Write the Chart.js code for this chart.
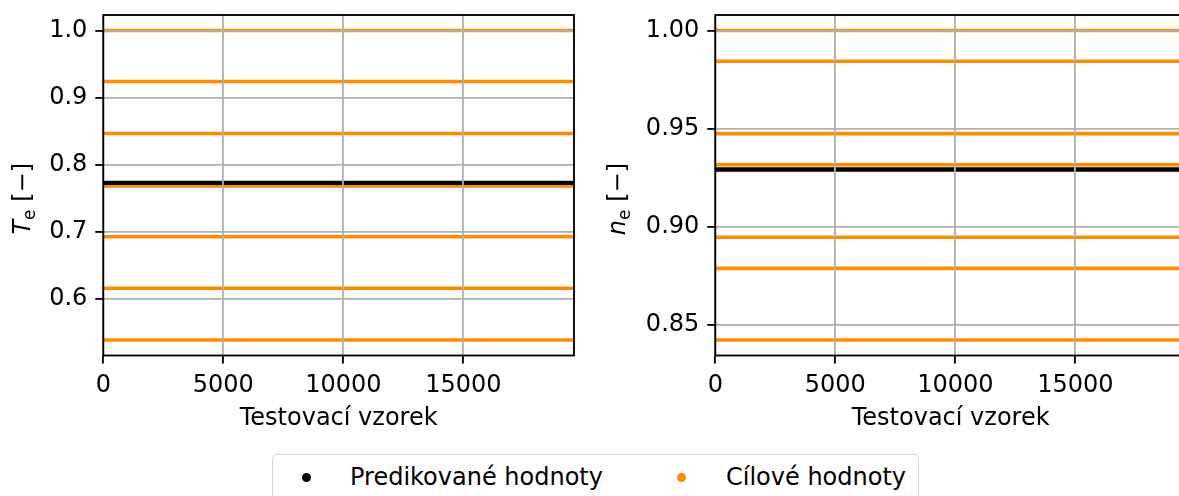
<!DOCTYPE html>
<html><head><meta charset="utf-8">
<script src="https://cdn.jsdelivr.net/npm/chart.js@4"></script>
<style>
html,body{margin:0;padding:0;width:1179px;height:496px;overflow:hidden;background:#fff;}
#wrap{position:relative;width:1179px;height:496px;overflow:hidden;}
canvas{position:absolute;top:0;}
#c1{left:0;width:590px;height:440px;}
#c2{left:590px;width:612px;height:440px;}
#legbox{position:absolute;left:272px;top:454px;width:647px;height:70px;border:1.8px solid #d4d4d4;border-radius:5px;box-sizing:border-box;background:#fff;}
.dot{position:absolute;width:9px;height:9px;border-radius:50%;}
.lt{position:absolute;font-family:"DejaVu Sans";font-size:24px;line-height:24px;white-space:nowrap;color:#000;}
</style></head>
<body>
<div id="wrap">
<canvas id="c1" width="590" height="440"></canvas>
<canvas id="c2" width="612" height="440"></canvas>
<div id="legbox"></div>
<div class="dot" id="d1" style="left:302px;top:473px;"></div>
<span class="lt" id="l1" style="left:350px;top:465px;"></span>
<div class="dot" id="d2" style="left:677px;top:473px;"></div>
<span class="lt" id="l2" style="left:726px;top:465px;"></span>
</div>
<script>
// ---- data ----
const seriesNames = ["Predikované hodnoty", "Cílové hodnoty"];
const seriesColors = ["#000000", "#ff8c00"];
const xLabel = "Testovací vzorek";
const sampleCount = 19612;
const xTicks = [0, 5000, 10000, 15000];

const teTarget = [1.0, 0.9239, 0.8463, 0.7682, 0.6925, 0.6157, 0.5384];
const tePredicted = [0.7727];
const teTicks = [0.6, 0.7, 0.8, 0.9, 1.0];

const neTarget = [1.0, 0.9843, 0.9475, 0.9316, 0.8947, 0.8789, 0.8424];
const nePredicted = [0.9292];
const neTicks = [0.85, 0.90, 0.95, 1.00];

// ---- legend ----
document.getElementById('d1').style.background = seriesColors[0];
document.getElementById('d2').style.background = seriesColors[1];
document.getElementById('l1').textContent = seriesNames[0];
document.getElementById('l2').textContent = seriesNames[1];

Chart.defaults.font.family = "DejaVu Sans";
Chart.defaults.font.size = 24;
Chart.defaults.color = "#000";

const LW = 1.85;
const framePlugin = {
  id: 'frame',
  afterDraw(chart) {
    const {ctx, chartArea: a} = chart;
    ctx.save();
    ctx.strokeStyle = '#000';
    ctx.lineWidth = LW;
    ctx.strokeRect(a.left, a.top, a.right - a.left, a.bottom - a.top);
    ctx.restore();
    const o = chart.options.plugins.ylab;
    if (!o) return;
    ctx.save();
    ctx.fillStyle = '#000';
    ctx.textBaseline = 'alphabetic';
    ctx.textAlign = 'left';
    const fMain = '24px "DejaVu Sans"';
    const fIt = 'italic 24px "DejaVu Sans"';
    const fSub = '17px "DejaVu Sans"';
    ctx.font = fIt; const wS = ctx.measureText(o.sym).width;
    ctx.font = fSub; const wE = ctx.measureText(o.sub).width;
    ctx.font = fMain; const wR = ctx.measureText(o.rest).width;
    const total = wS + wE + wR;
    ctx.translate(o.x, o.yEnd);
    ctx.rotate(-Math.PI / 2);
    let x0 = -total;
    ctx.font = fIt; ctx.fillText(o.sym, x0, 0);
    ctx.font = fSub; ctx.fillText(o.sub, x0 + wS, 4.5);
    ctx.font = fMain; ctx.fillText(o.rest, x0 + wS + wE, 0);
    ctx.restore();
  }
};

function makeChart(id, target, predicted, yTicks, decimals, yAxisWidth, rightPad, ylab) {
  const lo = Math.min(...target, ...predicted), hi = Math.max(...target, ...predicted);
  const m = (hi - lo) * 0.05;
  const datasets = [];
  predicted.forEach(v => datasets.push({
    label: seriesNames[0], data: [{x: 0, y: v}, {x: sampleCount, y: v}],
    borderColor: seriesColors[0], borderWidth: 4.4, pointRadius: 0, fill: false
  }));
  target.forEach(v => datasets.push({
    label: seriesNames[1], data: [{x: 0, y: v}, {x: sampleCount, y: v}],
    borderColor: seriesColors[1], borderWidth: 3.6, pointRadius: 0, fill: false
  }));
  return new Chart(document.getElementById(id), {
    type: 'line',
    data: {datasets},
    options: {
      responsive: false, animation: false, devicePixelRatio: 1,
      layout: {padding: {top: 15, right: rightPad, bottom: 0, left: 0}, autoPadding: false},
      plugins: {legend: {display: false}, tooltip: {enabled: false}, ylab},
      scales: {
        x: {
          type: 'linear', min: 0, max: sampleCount,
          afterBuildTicks: s => { s.ticks = xTicks.map(v => ({value: v})); },
          afterFit: s => { s.height = 84.5; s.paddingLeft = 0; s.paddingRight = 0; },
          ticks: {padding: 8, maxRotation: 0, autoSkip: false, callback: v => String(v)},
          grid: {color: '#b0b0b0', lineWidth: LW, z: 1, drawTicks: true, tickLength: 8, tickColor: '#000', tickWidth: LW},
          border: {display: false},
          title: {display: true, text: xLabel, padding: {top: 0, bottom: 7}}
        },
        y: {
          type: 'linear', min: lo - m, max: hi + m,
          afterBuildTicks: s => { s.ticks = yTicks.map(v => ({value: v})); },
          afterFit: s => { s.width = yAxisWidth; s.paddingTop = 0; s.paddingBottom = 0; },
          ticks: {padding: 8, autoSkip: false, callback: v => Number(v).toFixed(decimals)},
          grid: {color: '#b0b0b0', lineWidth: LW, z: 1, drawTicks: true, tickLength: 8, tickColor: '#000', tickWidth: LW},
          border: {display: false}
        }
      }
    },
    plugins: [framePlugin]
  });
}

makeChart('c1', teTarget, tePredicted, teTicks, 1, 103.3, 16, {sym: 'T', sub: 'e', rest: ' [\u2212]', x: 30, yEnd: 163});
makeChart('c2', neTarget, nePredicted, neTicks, 2, 125.3, 16, {sym: 'n', sub: 'e', rest: ' [\u2212]', x: 35, yEnd: 163});
</script>
</body></html>
